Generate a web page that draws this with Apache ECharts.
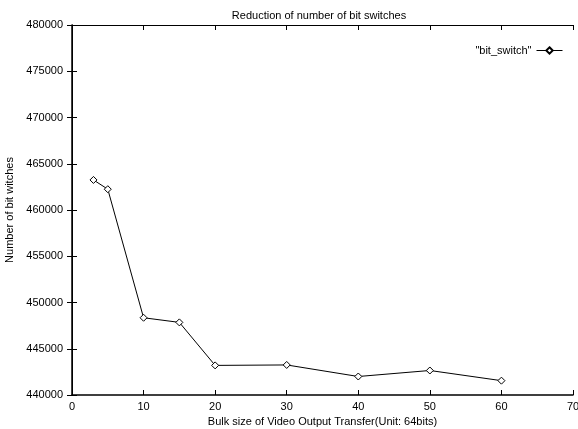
<!DOCTYPE html>
<html lang="en">
  <head>
    <meta charset="UTF-8" />
    <title>Reduction of number of bit switches</title>
    <style>
      html, body { margin: 0; padding: 0; background: #fff; }
    </style>
  </head>
  <body>
    <div id="chart" style="width: 578px; height: 429px;"></div>
  </body>
  <script src="https://cdn.jsdelivr.net/npm/echarts@6/dist/echarts.min.js"></script>
  <script>
    // bulk size (x) and number of bit switches (y)
    const bulkSizes = [3, 5, 10, 15, 20, 30, 40, 50, 60]
    const bitSwitches = [463250, 462250, 448350, 447850, 443200, 443250, 442000, 442650, 441550]
    const seriesName = '"bit_switch"'

    const font = 'Liberation Sans, Arial, sans-serif'
    const points = bulkSizes.map((x, i) => [x, bitSwitches[i]])

    const chart = echarts.init(document.getElementById('chart'))
    // gnuplot style: ticks inside, mirrored on top/right
    const tickIn = { show: true, inside: true, length: 5, lineStyle: { color: '#000', width: 1 } }
    const option = {
      backgroundColor: '#fff',
      animation: false,
      title: {
        text: 'Reduction of number of bit switches',
        left: 314,
        textAlign: 'center',
        top: 5,
        textStyle: { fontFamily: font, fontSize: 11, fontWeight: 'normal', color: '#000' }
      },
      legend: {
        right: 10,
        top: 40,
        align: 'right',
        itemWidth: 26,
        itemHeight: 8,
        itemGap: 6,
        lineStyle: { width: 1 },
        textStyle: { fontFamily: font, fontSize: 11, color: '#000' },
        data: [seriesName]
      },
      grid: { left: 72, right: 5, top: 25, bottom: 34, outerBoundsMode: 'none' },
      xAxis: [
        {
          type: 'value',
          min: 0,
          max: 70,
          interval: 10,
          name: 'Bulk size of Video Output Transfer(Unit: 64bits)',
          nameLocation: 'middle',
          nameGap: 19,
          nameTextStyle: { fontFamily: font, fontSize: 11, color: '#000' },
          axisLine: { lineStyle: { color: '#000', width: 1.5 } },
          axisTick: tickIn,
          axisLabel: { fontFamily: font, fontSize: 11, color: '#000', margin: 6 },
          splitLine: { show: false }
        },
        {
          type: 'value',
          position: 'top',
          min: 0,
          max: 70,
          interval: 10,
          axisLine: { show: true, lineStyle: { color: '#000', width: 1 } },
          axisTick: tickIn,
          axisLabel: { show: false },
          splitLine: { show: false }
        }
      ],
      yAxis: [
        {
          type: 'value',
          min: 440000,
          max: 480000,
          interval: 5000,
          name: 'Number of bit witches',
          nameLocation: 'middle',
          nameGap: 46,
          nameRotate: 90,
          nameTextStyle: { fontFamily: font, fontSize: 11, color: '#000' },
          axisLine: { show: true, lineStyle: { color: '#000', width: 1.5 } },
          axisTick: tickIn,
          axisLabel: { fontFamily: font, fontSize: 11, color: '#000', margin: 9, formatter: v => String(v) },
          splitLine: { show: false }
        },
        {
          type: 'value',
          position: 'right',
          min: 440000,
          max: 480000,
          interval: 5000,
          axisLine: { show: true, lineStyle: { color: '#000', width: 1 } },
          axisTick: tickIn,
          axisLabel: { show: false },
          splitLine: { show: false }
        }
      ],
      series: [
        {
          name: seriesName,
          type: 'line',
          data: points,
          symbol: 'diamond',
          symbolSize: 7,
          lineStyle: { color: '#000', width: 1 },
          itemStyle: { color: '#fff', borderColor: '#000', borderWidth: 1 }
        }
      ]
    }
    chart.setOption(option)
  </script>
</html>
